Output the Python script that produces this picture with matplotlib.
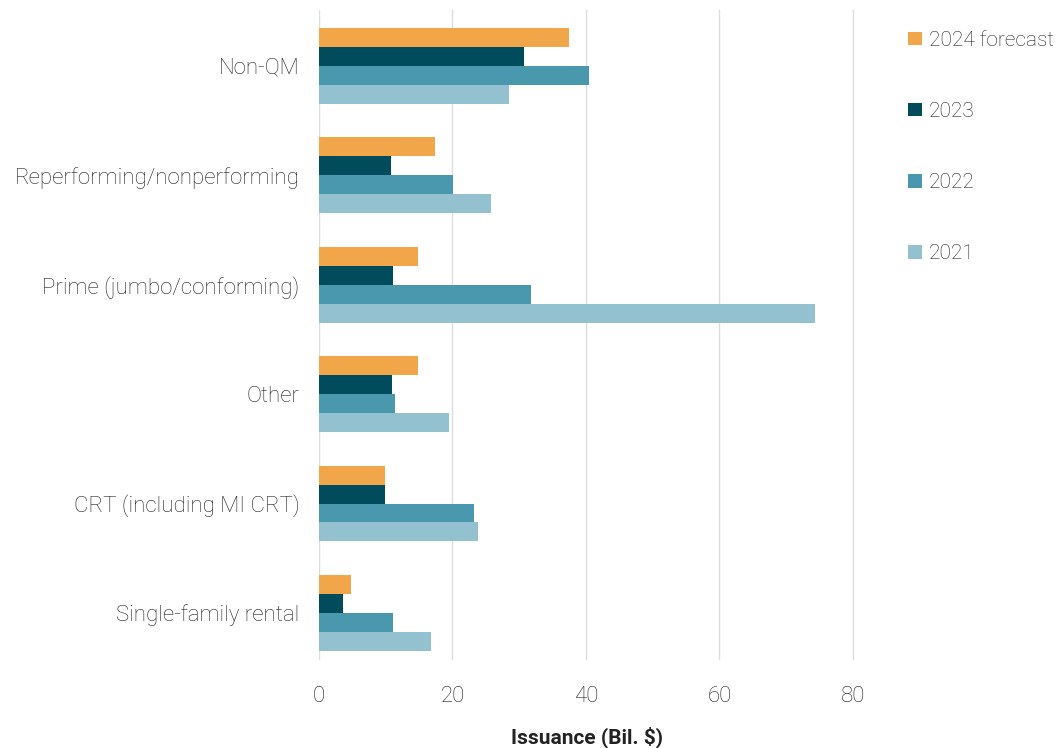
import numpy as np
import matplotlib
matplotlib.use('Agg')
import matplotlib.pyplot as plt

# Data
categories = ['Non-QM', 'Reperforming/nonperforming', 'Prime (jumbo/conforming)',
              'Other', 'CRT (including MI CRT)', 'Single-family rental']
series_names = ['2024 forecast', '2023', '2022', '2021']
v2024 = [37.5, 17.4, 14.9, 14.9, 9.9, 4.8]
v2023 = [30.7, 10.8, 11.1, 10.9, 9.9, 3.6]
v2022 = [40.4, 20.1, 31.7, 11.4, 23.2, 11.1]
v2021 = [28.5, 25.8, 74.3, 19.5, 23.8, 16.8]
colors = ['#F2A64A', '#004B5C', '#4A98AD', '#94C1CF']

plt.rcParams['font.family'] = ['Roboto', 'DejaVu Sans']
txt = '#222222'

fig = plt.figure(figsize=(10.6, 7.48), dpi=100)
ax = fig.add_axes([0.301, 0.1176, 0.5054, 0.869])

y = np.arange(len(categories))
h = 0.173
for i, (name, vals, c) in enumerate(zip(series_names, [v2024, v2023, v2022, v2021], colors)):
    ax.barh(y + (i - 1.5) * h, vals, height=h, color=c, label=name, zorder=2)

ax.set_xlim(0, 80.3)
ax.set_ylim(5.43, -0.51)
ax.set_xticks([0, 20, 40, 60, 80])
ax.set_yticks(y)
ax.set_yticklabels(categories, fontsize=16, fontweight='light', color=txt)
ax.tick_params(axis='x', labelsize=16, colors=txt, length=0, pad=19)
ax.tick_params(axis='y', length=0, pad=14)
for lab in ax.get_xticklabels():
    lab.set_fontweight('light')

ax.grid(axis='x', color='#dddddd', linewidth=1, zorder=0)
ax.set_axisbelow(True)
for s in ax.spines.values():
    s.set_visible(False)

ax.set_xlabel('Issuance (Bil. $)', fontsize=15, fontweight='bold', color='#222222', labelpad=14)

fig.legend(loc='upper left', bbox_to_anchor=(0.849, 0.97), frameon=False,
           handlelength=0.65, handleheight=0.65, handletextpad=0.35,
           labelspacing=2.5, borderaxespad=0, labelcolor=txt,
           prop={'weight': 'light', 'size': 15})

fig.savefig('out.png', dpi=100)
